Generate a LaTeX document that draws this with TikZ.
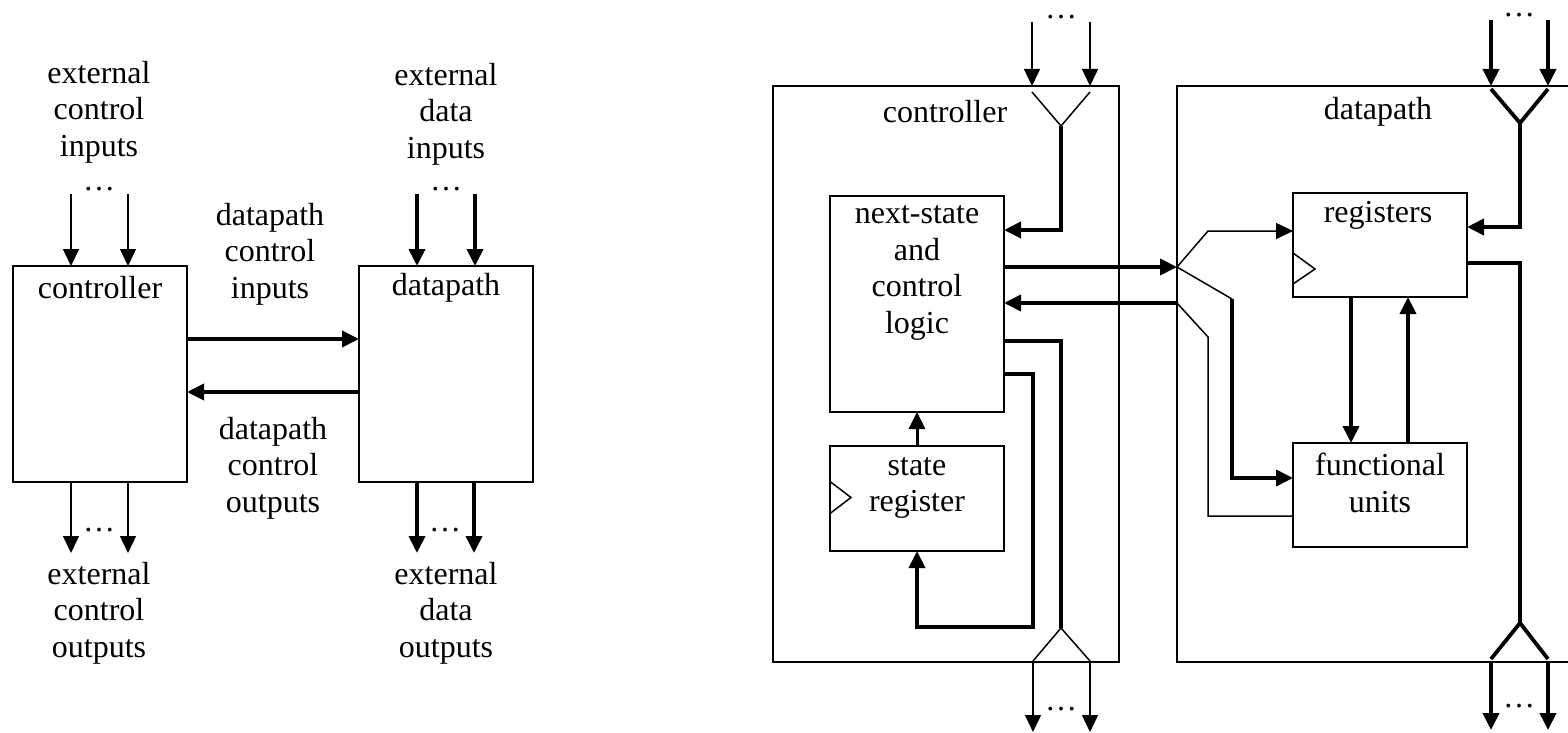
\documentclass[tikz,border=0pt]{standalone}
\usepackage{fontspec}
\setmainfont{Liberation Serif}
\usetikzlibrary{arrows.meta,calc}
\tikzset{
 box/.style={draw, line width=1.5pt, inner sep=0pt, outer sep=0pt},
 lbl/.style={font=\fontsize{32}{36.5}\selectfont, align=center, inner sep=0pt},
 dots/.style={font=\fontsize{32}{36.5}\selectfont, inner sep=0pt, anchor=base, text height=5pt, text depth=0pt},
 thinw/.style={line width=1.5pt},
 thickw/.style={line width=3.8pt},
 tip/.style={-{Triangle[length=17pt,width=16pt]}},
}
\begin{document}
\begin{tikzpicture}[x=1pt,y=-1pt]
\clip (0,0) rectangle (1568,733);
% ---------------- left diagram ----------------
\node[box,minimum width=174pt,minimum height=216pt] (C) at (100,374) {};
\node[box,minimum width=174pt,minimum height=216pt] (D) at (446,374) {};
\node[lbl] (Cl) at (100,288) {controller};
\node[lbl] (Dl) at (446,288) {datapath};
\node[lbl] (eci) at (99,112) {external\\control\\inputs};
\node[lbl] (edi) at (446,114) {external\\data\\inputs};
\node[lbl] (dci) at (270,254) {datapath\\control\\inputs};
\node[lbl] (dco) at (273,468) {datapath\\control\\outputs};
\node[lbl] (eco) at (99,613) {external\\control\\outputs};
\node[lbl] (edo) at (446,613) {external\\data\\outputs};
\node[dots] (dt1) at (99,190) {…};
\node[dots] (dt2) at (446,190) {…};
\node[dots] (dt3) at (99,531) {…};
\node[dots] (dt4) at (445,531) {…};
\coordinate (ci1) at (71,194); \coordinate (ci2) at (128,194);
\coordinate (co1) at (71,553); \coordinate (co2) at (128,553);
\coordinate (di1) at (417,194); \coordinate (di2) at (475,194);
\coordinate (do1) at (417,553); \coordinate (do2) at (474,553);
\draw[thinw,tip] (ci1) -- (ci1 |- C.north);
\draw[thinw,tip] (ci2) -- (ci2 |- C.north);
\draw[thinw,tip] (co1 |- C.south) -- (co1);
\draw[thinw,tip] (co2 |- C.south) -- (co2);
\draw[thickw,tip] (di1) -- (di1 |- D.north);
\draw[thickw,tip] (di2) -- (di2 |- D.north);
\draw[thickw,tip] (do1 |- D.south) -- (do1);
\draw[thickw,tip] (do2 |- D.south) -- (do2);
\coordinate (h1) at (270,339); \coordinate (h2) at (270,392);
\draw[thickw,tip] (C.east |- h1) -- (D.west |- h1);
\draw[thickw,tip] (D.west |- h2) -- (C.east |- h2);
% ---------------- right diagram ----------------
\node[box,minimum width=346pt,minimum height=576pt] (RC) at (946,374) {};
\node[box,minimum width=440pt,minimum height=576pt,anchor=west] (RD) at (1177,374) {};
\node[box,minimum width=174pt,minimum height=216pt] (NS) at (917,304) {};
\node[box,minimum width=174pt,minimum height=105pt] (SR) at (917,498.5) {};
\node[box,minimum width=174pt,minimum height=104pt] (REG) at (1380,245) {};
\node[box,minimum width=174pt,minimum height=104pt] (FU) at (1380,495) {};
\node[lbl] (RCl) at (945,112) {controller};
\node[lbl] (RDl) at (1378,112) {datapath};
\node[lbl] (NSl) at (917,273) {next-state\\and\\control\\logic};
\node[lbl] (SRl) at (917,488) {state\\register};
\node[lbl] (REGl) at (1378,215) {registers};
\node[lbl] (FUl) at (1380,483) {functional\\units};
% clock marks
\draw[thinw] ($(SR.west)+(0,-17)$) -- ($(SR.west)+(21,-1)$) -- ($(SR.west)+(0,15)$);
\draw[thinw] ($(REG.west)+(0,8)$) -- ($(REG.west)+(22,24)$) -- ($(REG.west)+(0,39)$);
% controller external inputs
\coordinate (ti1) at (1032,22); \coordinate (ti2) at (1090,22);
\draw[thinw,tip] (ti1) -- (ti1 |- RC.north);
\draw[thinw,tip] (ti2) -- (ti2 |- RC.north);
\node[dots] (dt5) at (1061,19) {…};
\coordinate (fl1) at (1032,92); \coordinate (fr1) at (1090,92);
\coordinate (fa) at (1061,126); \coordinate (na) at (1061,230);
\draw[thinw] (fl1) -- (fa) -- (fr1);
\draw[thickw,tip] (fa) -- (na) -- (na -| NS.east);
% controller <-> datapath
\coordinate (sp) at (1177,267); \coordinate (sp2) at (1177,303);
\draw[thickw,tip] (NS.east |- sp) -- (sp);
\draw[thickw,tip] (sp2) -- (NS.east |- sp2);
% controller outputs
\coordinate (nb) at (1061,341); \coordinate (fb) at (1061,628);
\draw[thickw] (nb -| NS.east) -- (nb) -- (fb);
\coordinate (fl2) at (1033,661); \coordinate (fr2) at (1090,661);
\draw[thinw] (fl2) -- (fb) -- (fr2);
\coordinate (bo1) at (1033,732); \coordinate (bo2) at (1090,732);
\draw[thinw,tip] (bo1 |- RC.south) -- (bo1);
\draw[thinw,tip] (bo2 |- RC.south) -- (bo2);
\node[dots] (dt6) at (1061,710) {…};
% feedback
\coordinate (fk1) at (1033,374); \coordinate (fk2) at (1033,627);
\draw[thickw,tip] (fk1 -| NS.east) -- (fk1) -- (fk2) -- (fk2 -| SR.south) -- (SR.south);
\draw[line width=3pt,tip] (SR.north) -- (NS.south);
% datapath internal from split
\coordinate (sa) at (1208,231);
\draw[thinw,tip] (sp) -- (sa) -- (sa -| REG.west);
\coordinate (sb) at (1232,299); \coordinate (sc) at (1232,478);
\draw[thinw] (sp) -- (sb);
\draw[thickw,tip] (sb) -- (sc) -- (sc -| FU.west);
\coordinate (sd) at (1208,337); \coordinate (se) at (1208,516);
\draw[thinw] (sp2) -- (sd) -- (se) -- (se -| FU.west);
\coordinate (v1) at (1351,370); \coordinate (v2) at (1408,370);
\draw[thickw,tip] (REG.south -| v1) -- (FU.north -| v1);
\draw[thickw,tip] (FU.north -| v2) -- (REG.south -| v2);
% datapath external inputs
\coordinate (ti3) at (1491,20); \coordinate (ti4) at (1548,20);
\draw[thickw,tip] (ti3) -- (ti3 |- RD.north);
\draw[thickw,tip] (ti4) -- (ti4 |- RD.north);
\node[dots] (dt7) at (1519,17) {…};
\coordinate (fl3) at (1491,89); \coordinate (fr3) at (1548,89);
\coordinate (fc) at (1520,123); \coordinate (rc) at (1520,227);
\draw[thickw] (fl3) -- (fc) -- (fr3);
\draw[thickw,tip] (fc) -- (rc) -- (rc -| REG.east);
% datapath external outputs
\coordinate (ro) at (1520,263); \coordinate (fd) at (1520,623);
\draw[thickw] (ro -| REG.east) -- (ro) -- (fd);
\coordinate (fl4) at (1491,659); \coordinate (fr4) at (1548,659);
\draw[thickw] (fl4) -- (fd) -- (fr4);
\coordinate (bo3) at (1491,730); \coordinate (bo4) at (1548,730);
\draw[thickw,tip] (bo3 |- RD.south) -- (bo3);
\draw[thickw,tip] (bo4 |- RD.south) -- (bo4);
\node[dots] (dt8) at (1519,707) {…};
\end{tikzpicture}
\end{document}
